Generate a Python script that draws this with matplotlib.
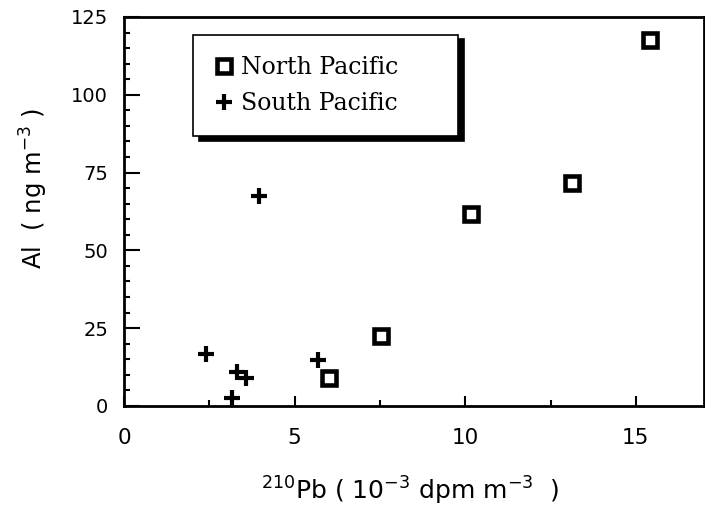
import matplotlib
matplotlib.use("Agg")
import matplotlib.pyplot as plt
from matplotlib.ticker import MultipleLocator

north_x = [6.0, 7.53, 10.16, 13.12, 15.42]
north_y = [9.0, 22.4, 61.8, 71.7, 117.5]
south_x = [2.41, 3.31, 3.56, 3.15, 5.67, 3.95]
south_y = [16.7, 11.0, 9.0, 2.6, 14.7, 67.6]
x_ticks = [0, 5, 10, 15]
y_ticks = [0, 25, 50, 75, 100, 125]

fig = plt.figure(figsize=(7.05, 5.15), dpi=100)
ax = fig.add_axes([0.176, 0.212, 0.8226, 0.755])

ax.plot(north_x, north_y, linestyle="none", marker="s", markersize=9.5,
        markerfacecolor="white", markeredgecolor="black", markeredgewidth=3.3,
        label="North Pacific")
ax.plot(south_x, south_y, linestyle="none", marker="+", markersize=12,
        color="black", markeredgewidth=3, label="South Pacific")

ax.set_xlim(0, 17)
ax.set_ylim(0, 125)
ax.set_xticks(x_ticks)
ax.set_yticks(y_ticks)
ax.xaxis.set_minor_locator(MultipleLocator(2.5))
ax.yaxis.set_minor_locator(MultipleLocator(5))
ax.tick_params(which="both", direction="in", top=False, right=False, width=1.5)
ax.tick_params(axis="y", which="major", length=11.5, labelsize=14, pad=11.5)
ax.tick_params(axis="x", which="major", length=7, labelsize=15.5, pad=16)
ax.tick_params(which="minor", length=4.3)
for s in ax.spines.values():
    s.set_linewidth(2)

ax.set_xlabel(r"$^{210}$Pb ( 10$^{-3}$ dpm m$^{-3}$  )", fontsize=18)
ax.set_ylabel(r"Al  ( ng m$^{-3}$ )", fontsize=17.5)
ax.xaxis.set_label_coords(0.493, -0.178)
ax.yaxis.set_label_coords(-0.128, 0.558)

leg = ax.legend(loc="upper left", bbox_to_anchor=(0.119, 0.954, 0.457, 0.0),
                mode="expand",
                prop={"family": "DejaVu Serif", "size": 17},
                frameon=True, fancybox=False,
                shadow={"color": "black", "alpha": 1, "ox": 4, "oy": -3},
                handlelength=0.8, handletextpad=0.35, borderpad=0.9,
                labelspacing=0.55, borderaxespad=0)
leg.get_frame().set_edgecolor("black")
leg.get_frame().set_linewidth(1.2)

fig.savefig("out.png", dpi=100)
